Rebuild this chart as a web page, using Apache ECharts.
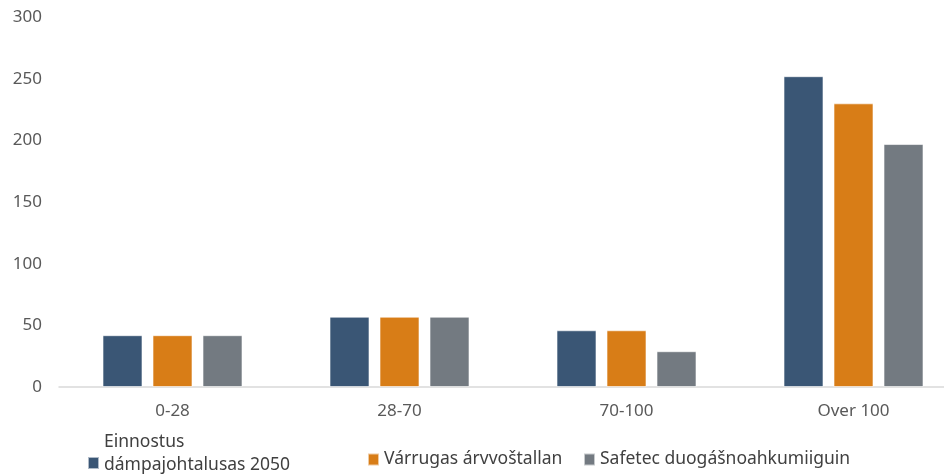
<!DOCTYPE html>
<html>
<head>
<meta charset="utf-8">
<script src="https://cdn.jsdelivr.net/npm/echarts@6/dist/echarts.min.js"></script>
<style>
html,body{margin:0;padding:0;background:#fff;}
#chart{width:944px;height:475px;}
</style>
</head>
<body>
<div id="chart"></div>
<script>
const categories = ['0-28', '28-70', '70-100', 'Over 100'];
const seriesNames = ['Einnostus\ndámpajohtalusas 2050', 'Várrugas árvvoštallan', 'Safetec duogášnoahkumiiguin'];
const valuesForecast = [42, 57, 46, 252];
const valuesEstimate = [42, 57, 46, 230];
const valuesSafetec = [42, 57, 29, 197];
const yTicks = [0, 50, 100, 150, 200, 250, 300];

const colors = ['#3a5675', '#d87d17', '#737a81'];
const font = 'Noto Sans';
const chart = echarts.init(document.getElementById('chart'), null, {renderer: 'canvas'});
const dataSets = [valuesForecast, valuesEstimate, valuesSafetec];
const legendPos = [
  {left: 82, top: 426},
  {left: 362, top: 443},
  {left: 578, top: 443}
];
const txt = {color: '#404040', fontSize: 17.5, fontFamily: font, lineHeight: 23};
chart.setOption({
  animation: false,
  grid: {left: 59, right: -23, top: 17, bottom: 88, outerBoundsMode: 'none'},
  xAxis: {
    type: 'category',
    data: categories,
    axisLine: {lineStyle: {color: '#d9d9d9', width: 1.5}},
    axisTick: {show: false},
    axisLabel: {color: '#595959', fontSize: 17, fontFamily: font, margin: 16}
  },
  yAxis: {
    type: 'value',
    min: yTicks[0],
    max: yTicks[yTicks.length - 1],
    interval: 50,
    axisLine: {show: false},
    axisTick: {show: false},
    splitLine: {show: false},
    axisLabel: {color: '#595959', fontSize: 17, fontFamily: font, margin: 17}
  },
  legend: seriesNames.map((n, i) => ({
    data: [n],
    top: legendPos[i].top,
    left: legendPos[i].left,
    icon: 'rect',
    itemWidth: 11,
    itemHeight: 12,
    itemGap: 10,
    formatter: i === 0 ? (name) => name.split('\n').map(s => '{t|' + s + '}').join('\n') + '\n{e| }' : '{name}',
    textStyle: Object.assign({}, txt, {rich: {t: txt, e: {fontSize: 10, lineHeight: 18}}})
  })),
  series: dataSets.map((d, i) => ({
    name: seriesNames[i],
    type: 'bar',
    data: d,
    barWidth: 40,
    barGap: '25%',
    itemStyle: {color: colors[i], borderColor: 'rgba(255,255,255,0.6)', borderWidth: 1}
  }))
});
</script>
</body>
</html>
